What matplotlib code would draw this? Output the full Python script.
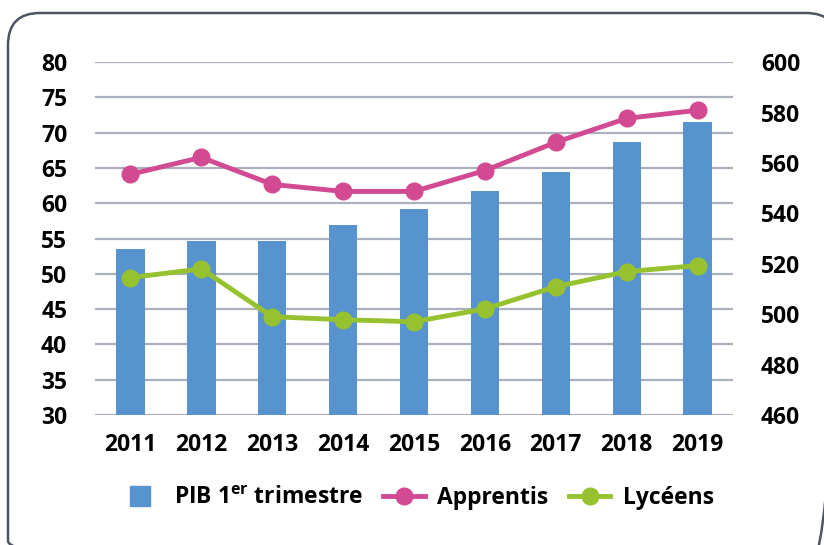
import matplotlib
matplotlib.use("Agg")
import matplotlib.pyplot as plt
from matplotlib.patches import FancyBboxPatch
from matplotlib.lines import Line2D

plt.rcParams["font.family"] = ["Open Sans", "DejaVu Sans"]
plt.rcParams["mathtext.fontset"] = "custom"
plt.rcParams["mathtext.rm"] = "Open Sans:bold"
plt.rcParams["mathtext.it"] = "Open Sans:bold"

years = ["2011", "2012", "2013", "2014", "2015", "2016", "2017", "2018", "2019"]
pib = [53.5, 54.7, 54.7, 56.9, 59.2, 61.7, 64.4, 68.7, 71.5]
apprentis = [555.5, 562.2, 551.5, 548.7, 548.7, 557.0, 568.2, 577.7, 580.9]
lyceens = [514.5, 518.0, 499.0, 497.8, 497.0, 502.1, 510.9, 516.9, 519.3]

BLUE = "#5793cf"
PINK = "#d24a92"
GREEN = "#97c22f"
GRID = "#aab1bd"
FS = 16.5

fig = plt.figure(figsize=(8.24, 5.45), dpi=100)

# rounded frame around the whole chart, drawn in pixel units
bg = fig.add_axes([0, 0, 1, 1], zorder=-1)
bg.set_xlim(0, 824); bg.set_ylim(545, 0); bg.axis("off")
bg.add_patch(FancyBboxPatch((8, 13), 830, 560,
             boxstyle="round,pad=0,rounding_size=32",
             linewidth=1.8, edgecolor="#4d5563", facecolor="none"))

ax = fig.add_axes([0.1153, 0.2385, 0.7743, 0.6475])
x = list(range(len(years)))
ax.bar(x, pib, width=0.4, color=BLUE, zorder=2)
ax.set_ylim(30, 80)
ax.set_yticks(range(30, 81, 5))
ax.set_xlim(-0.5, len(years) - 0.5)
ax.set_xticks(x)
ax.set_xticklabels(years)
ax.grid(axis="y", color=GRID, linewidth=1.6, zorder=0)
ax.set_axisbelow(True)
for s in ax.spines.values():
    s.set_visible(False)
ax.tick_params(length=0, labelsize=FS, pad=13)
ax.tick_params(axis="y", pad=20)
for lab in ax.get_xticklabels() + ax.get_yticklabels():
    lab.set_fontweight("bold")

ax2 = ax.twinx()
ax2.plot(x, apprentis, color=PINK, lw=3.5, marker="o", ms=12, zorder=3)
ax2.plot(x, lyceens, color=GREEN, lw=3.5, marker="o", ms=12, zorder=3)
ax2.set_ylim(460, 600)
ax2.set_yticks(range(460, 601, 20))
for s in ax2.spines.values():
    s.set_visible(False)
ax2.tick_params(length=0, labelsize=FS, pad=20)
for lab in ax2.get_yticklabels():
    lab.set_fontweight("bold")

handles = [Line2D([], [], color=BLUE, lw=0, marker="s", ms=15),
           Line2D([], [], color=PINK, lw=3.5, marker="o", ms=12),
           Line2D([], [], color=GREEN, lw=3.5, marker="o", ms=12)]
labels = ["PIB 1$^{\\mathrm{er}}$ trimestre", "Apprentis", "Lycéens"]
fig.legend(handles, labels, loc="center", bbox_to_anchor=(0.506, 1 - 498 / 545),
           ncol=3, frameon=False, handlelength=1.8,
           columnspacing=0.9, handletextpad=0.55,
           prop={"weight": "bold", "size": FS})

fig.savefig("out.png", dpi=100)
